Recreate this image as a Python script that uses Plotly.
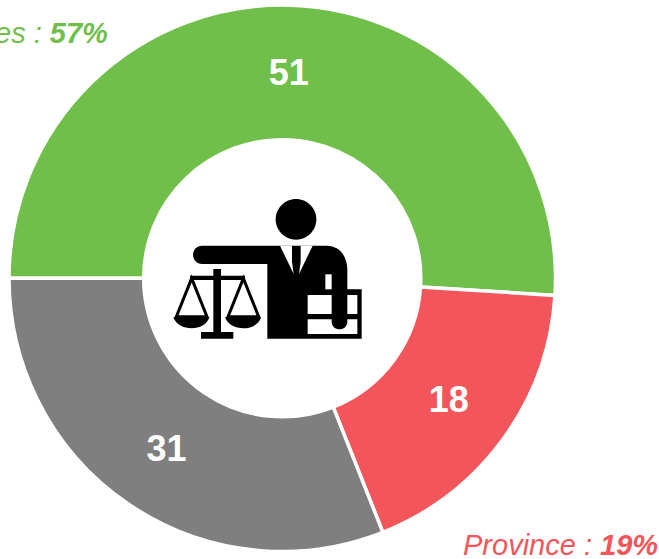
import re
import plotly.graph_objects as go

W, H = 659, 559
categories = ["Communes", "Province", "Autres"]
values = [51, 18, 31]
colors = ["#70BF4B", "#F2565B", "#7F7F7F"]
callouts = ["<i>es : <b>57%</b></i>", "<i>Province : <b>19%</b></i>"]

CX0, CY0 = 140, 180  # icon drawn in units of a 3x zoom from this origin


def path(d):
    """Convert icon units (3x) to paper coordinates."""
    def pair(m):
        x = (CX0 + float(m.group(1)) / 3) / W
        y = 1 - (CY0 + float(m.group(2)) / 3) / H
        return f"{x:.5f},{y:.5f}"
    return re.sub(r"(-?[\d.]+)[ ,]+(-?[\d.]+)", pair, d)


def shp(d, fill="black", line_w=0, line_c="black"):
    return dict(type="path", xref="paper", yref="paper", path=path(d),
                fillcolor=fill, layer="above",
                line=dict(width=line_w, color=line_c))


k = 0.5523
def circle(cx, cy, r):
    c = k * r
    return (f"M {cx-r} {cy} C {cx-r} {cy-c} {cx-c} {cy-r} {cx} {cy-r} "
            f"C {cx+c} {cy-r} {cx+r} {cy-c} {cx+r} {cy} "
            f"C {cx+r} {cy+c} {cx+c} {cy+r} {cx} {cy+r} "
            f"C {cx-c} {cy+r} {cx-r} {cy+c} {cx-r} {cy} Z")


def rect(x0, y0, x1, y1):
    return f"M {x0} {y0} L {x1} {y0} L {x1} {y1} L {x0} {y1} Z"


icon = [
    shp(circle(468, 118, 61)),
    # arm + body + right arm
    shp("M 187 197 L 560 197 C 600 197 622 230 622 270 L 622 328 L 665 328 L 665 476 "
        "L 382 476 L 382 252 L 187 252 C 150 252 150 197 187 197 Z"),
    # collar wedges
    shp("M 420 197 L 456 197 L 456 245 L 461 282 Z", fill="white"),
    shp("M 518 197 L 482 197 L 482 245 L 477 282 Z", fill="white"),
    # slit and box windows
    shp(rect(556, 283, 575, 328), fill="white"),
    shp(rect(503, 345, 575, 402), fill="white"),
    shp(rect(622, 345, 652, 402), fill="white"),
    shp("M 503 418 L 575 418 L 575 425 C 575 455 622 455 622 425 L 622 418 L 652 418 "
        "L 652 462 L 503 462 Z", fill="white"),
    # scales
    shp(rect(220, 267, 243, 470)),
    shp(rect(150, 287, 315, 300)),
    shp(rect(183, 456, 280, 476)),
    shp("M 155 295 L 109 410 L 201 410 Z", fill="rgba(0,0,0,0)", line_w=3),
    shp("M 310 295 L 264 410 L 356 410 Z", fill="rgba(0,0,0,0)", line_w=3),
    shp("M 100 412 L 208 412 C 195 456 115 456 100 412 Z"),
    shp("M 255 412 L 363 412 C 350 456 270 456 255 412 Z"),
]

fig = go.Figure(go.Pie(
    labels=categories,
    values=values,
    marker=dict(colors=colors, line=dict(color="white", width=3.5)),
    hole=0.507,
    rotation=270,
    direction="clockwise",
    sort=False,
    textinfo="value",
    textposition="inside",
    insidetextorientation="horizontal",
    insidetextfont=dict(family="Liberation Sans", size=36, color="white"),
    texttemplate="<b>%{value}</b>",
    domain=dict(x=[9 / W, 555.5 / W], y=[1 - 551.5 / H, 1 - 5 / H]),
    showlegend=False,
))

fig.update_layout(
    width=W, height=H,
    margin=dict(l=0, r=0, t=0, b=0),
    paper_bgcolor="white",
    shapes=icon,
    annotations=[
        dict(text=callouts[0], x=110 / W, y=1 - 33 / H, xref="paper", yref="paper",
             xanchor="right", yanchor="middle", showarrow=False,
             font=dict(family="Liberation Sans", size=29, color=colors[0])),
        dict(text=callouts[1], x=660 / W, y=1 - 545 / H, xref="paper", yref="paper",
             xanchor="right", yanchor="middle", showarrow=False,
             font=dict(family="Liberation Sans", size=29, color=colors[1])),
    ],
)

fig.write_html("out.html", config=dict(displayModeBar=False),
               post_script="document.body.style.margin='0';document.documentElement.style.overflow='hidden';")
